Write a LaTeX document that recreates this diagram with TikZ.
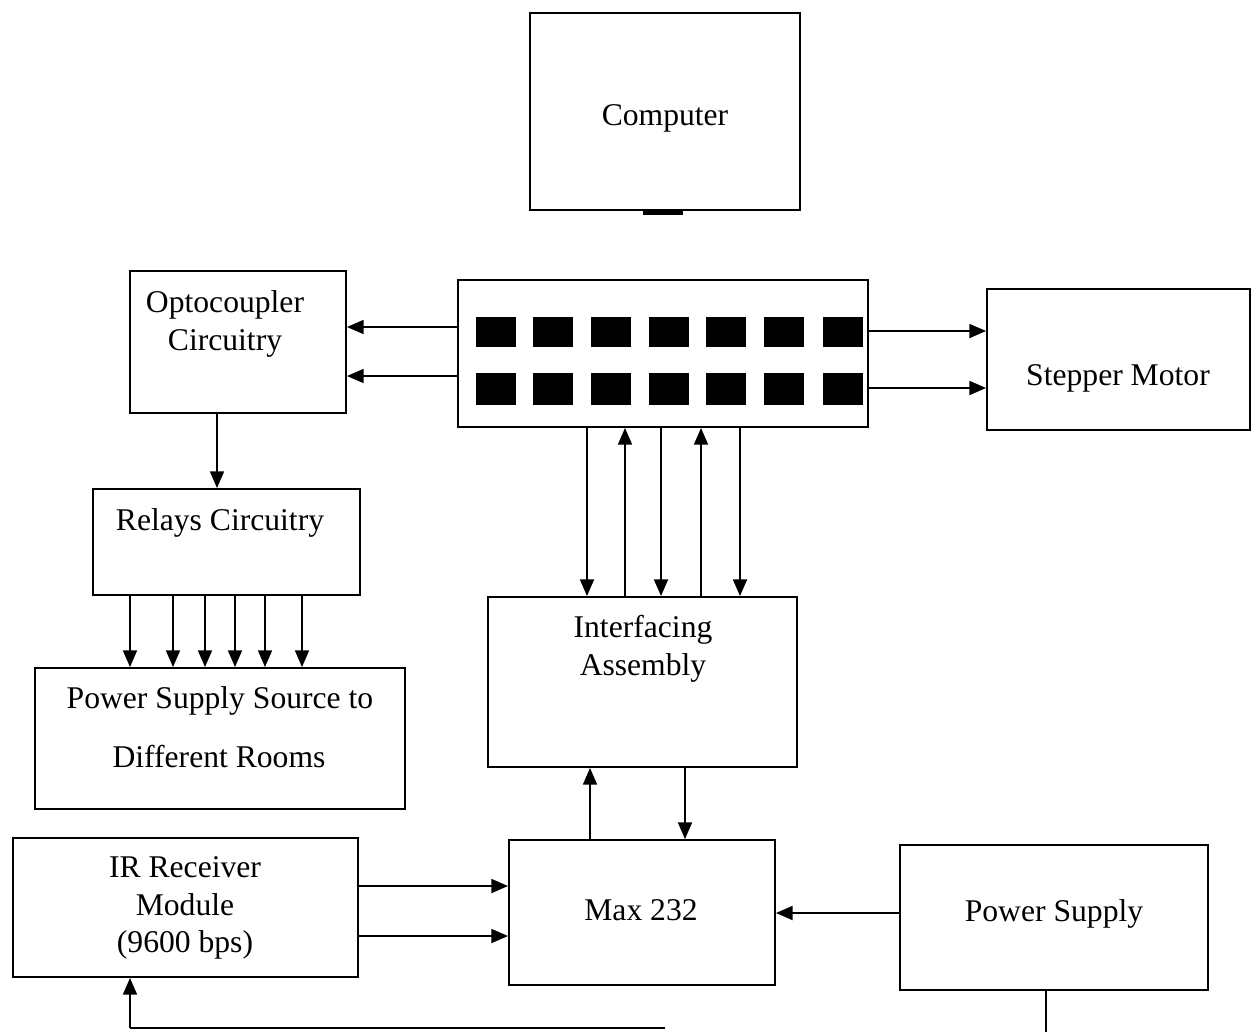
\documentclass[tikz,border=0pt]{standalone}
\usepackage{fontspec}
\setmainfont{Liberation Serif}
\usetikzlibrary{arrows.meta,fit}
\begin{document}
\begin{tikzpicture}[x=0.02cm,y=-0.02cm,
  box/.style={draw,line width=1.1pt,inner sep=0pt},
  lbl/.style={font=\fontsize{18}{21.5}\selectfont,align=center,inner sep=0pt},
  arr/.style={line width=0.9pt,-{Triangle[length=9.5pt,width=8pt]}},
  wire/.style={line width=0.9pt}]
\useasboundingbox (0,0) rectangle (1251,1032);
% boxes
\node[box,fit={(530,13) (800,210)}] (comp) {};
\node[box,fit={(130,271) (346,413)}] (opto) {};
\node[box,fit={(458,280) (868,427)}] (port) {};
\node[box,fit={(987,289) (1250,430)}] (step) {};
\node[box,fit={(93,489) (360,595)}] (relay) {};
\node[box,fit={(35,668) (405,809)}] (rooms) {};
\node[box,fit={(488,597) (797,767)}] (intf) {};
\node[box,fit={(13,838) (358,977)}] (ir) {};
\node[box,fit={(509,840) (775,985)}] (max) {};
\node[box,fit={(900,845) (1208,990)}] (ps) {};
% labels
\node[lbl] at (665,118) {Computer};
\node[lbl] at (225,324) {Optocoupler\\Circuitry};
\node[lbl] at (1118,378) {Stepper Motor};
\node[lbl] at (220,523) {Relays Circuitry};
\node[lbl] at (220,701) {Power Supply Source to};
\node[lbl] at (219,757) {Different Rooms};
\node[lbl] at (643,649) {Interfacing\\Assembly};
\node[lbl] at (185,908) {IR Receiver\\Module\\(9600 bps)};
\node[lbl] at (641,910) {Max 232};
\node[lbl] at (1054,914) {Power Supply};
% mark under computer
\fill (643,211) rectangle (683,215);
% port pins
\foreach \x in {476,533,591,649,706,764,823} {
  \fill (\x,317) rectangle ++(40,30);
  \fill (\x,373) rectangle ++(40,32);
}
% helper coordinates
\coordinate (h1) at (0,327);
\coordinate (h2) at (0,376);
\coordinate (h3) at (0,331);
\coordinate (h4) at (0,388);
\coordinate (h5) at (0,886);
\coordinate (h6) at (0,936);
\coordinate (h7) at (0,913);
% port -> optocoupler
\draw[arr] (port.west |- h1) -- (opto.east |- h1);
\draw[arr] (port.west |- h2) -- (opto.east |- h2);
% port -> stepper
\draw[arr] (port.east |- h3) -- (step.west |- h3);
\draw[arr] (port.east |- h4) -- (step.west |- h4);
% optocoupler -> relays
\coordinate (v0) at (217,0);
\draw[arr] (opto.south -| v0) -- (relay.north -| v0);
% relays -> rooms
\foreach \x in {130,173,205,235,265,302} {
  \coordinate (vr) at (\x,0);
  \draw[arr] (relay.south -| vr) -- (rooms.north -| vr);
}
% port <-> interfacing
\foreach \x in {587,661,740} {
  \coordinate (vd) at (\x,0);
  \draw[arr] (port.south -| vd) -- (intf.north -| vd);
}
\foreach \x in {625,701} {
  \coordinate (vu) at (\x,0);
  \draw[arr] (intf.north -| vu) -- (port.south -| vu);
}
% interfacing <-> max
\coordinate (va) at (685,0);
\coordinate (vb) at (590,0);
\draw[arr] (intf.south -| va) -- (max.north -| va);
\draw[arr] (max.north -| vb) -- (intf.south -| vb);
% IR -> max
\draw[arr] (ir.east |- h5) -- (max.west |- h5);
\draw[arr] (ir.east |- h6) -- (max.west |- h6);
% power supply -> max
\draw[arr] (ps.west |- h7) -- (max.east |- h7);
% bottom loop
\coordinate (bl) at (665,1028);
\coordinate (bc) at (130,1028);
\draw[wire] (bl) -- (bc);
\draw[arr] (bc) -- (ir.south -| bc);
\coordinate (pb) at (1046,1032);
\draw[wire] (ps.south -| pb) -- (pb);
\end{tikzpicture}
\end{document}
